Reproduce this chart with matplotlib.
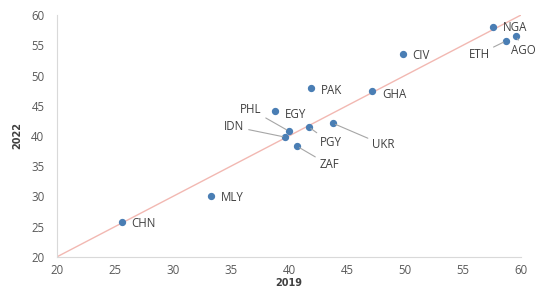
import matplotlib.pyplot as plt

codes = ["CHN", "MLY", "IDN", "PHL", "EGY", "PGY", "ZAF", "UKR",
         "PAK", "GHA", "CIV", "NGA", "ETH", "AGO"]
v2019 = [25.6, 33.3, 39.7, 40.0, 38.8, 41.7, 40.7, 43.8,
         41.9, 47.2, 49.8, 57.6, 58.7, 59.6]
v2022 = [25.8, 30.1, 39.8, 40.8, 44.1, 41.5, 38.3, 42.1,
         47.9, 47.4, 53.6, 58.0, 55.7, 56.5]

# label offsets in points, and whether a leader line is drawn
offs = {
    "CHN": (7, -4, False), "MLY": (7, -4, False), "IDN": (-44, 5, True),
    "PHL": (-35, 13, True), "EGY": (7, -5, False), "PGY": (8, -14, True),
    "ZAF": (16, -16, True), "UKR": (28, -18, True), "PAK": (7, -4, False),
    "GHA": (7, -5, False), "CIV": (7, -4, False), "NGA": (7, -3, False),
    "ETH": (-27, -12, True), "AGO": (-4, -13, True),
}

fig = plt.figure(figsize=(5.36, 2.89), dpi=100)
ax = fig.add_axes([0.106, 0.111, 0.866, 0.837])

ax.plot([20, 60], [20, 60], color="#f2b8b2", lw=1, zorder=1)
ax.scatter(v2019, v2022, s=18, color="#4a7eb4", zorder=3)

for c, x, y in zip(codes, v2019, v2022):
    dx, dy, lead = offs[c]
    arrow = None
    if lead:
        arrow = dict(arrowstyle="-", color="#a6a6a6", lw=0.8,
                     shrinkA=1, shrinkB=2)
    ax.annotate(c, (x, y), xytext=(dx, dy), textcoords="offset points",
                fontsize=8.3, color="#404040", family="Open Sans",
                arrowprops=arrow, annotation_clip=False, clip_on=False)

ax.set_xlim(20, 60)
ax.set_ylim(20, 60)
ax.set_xticks(range(20, 61, 5))
ax.set_yticks(range(20, 61, 5))
ax.tick_params(length=0, labelsize=8.3, labelcolor="#595959")
ax.tick_params(axis="y", pad=9)
ax.tick_params(axis="x", pad=5)
for lab in ax.get_xticklabels() + ax.get_yticklabels():
    lab.set_family("Open Sans")
for s in ["top", "right"]:
    ax.spines[s].set_visible(False)
for s in ["left", "bottom"]:
    ax.spines[s].set_color("#d9d9d9")

ax.set_xlabel("2019", fontsize=7, fontweight="bold", color="#404040", labelpad=1)
ax.set_ylabel("2022", fontsize=7, fontweight="bold", color="#404040", labelpad=6)

fig.savefig("out.png", dpi=100)
